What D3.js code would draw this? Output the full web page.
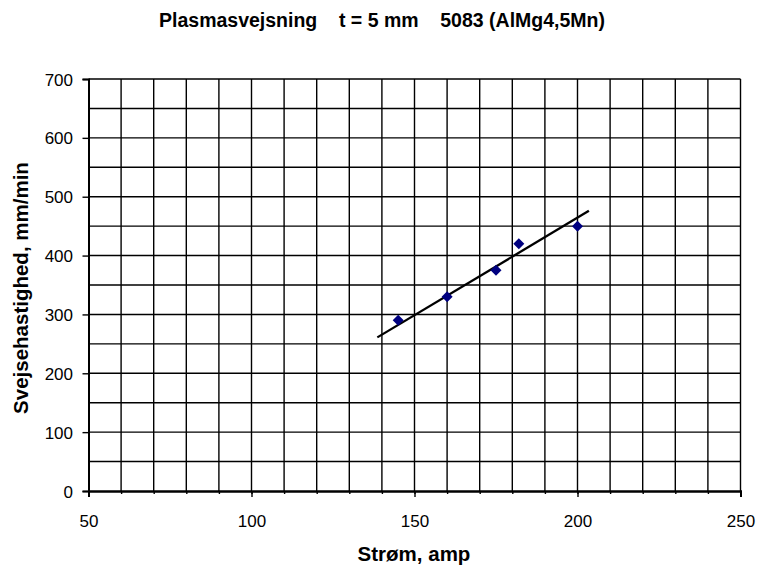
<!DOCTYPE html>
<html><head><meta charset="utf-8">
<script src="https://cdn.jsdelivr.net/npm/d3@7"></script>
<style>body{margin:0;background:#fff}svg{display:block}text{font-family:"Liberation Sans",Arial,sans-serif}</style>
</head><body>
<script>
const current = [145, 160, 175, 182, 200];
const speed = [290, 330, 375, 420, 450];
const trendX = [138.6, 203.5];
const trendY = [261, 476];
const xTicks = [50, 100, 150, 200, 250];
const yTicks = [0, 100, 200, 300, 400, 500, 600, 700];
const title = "Plasmasvejsning\u00a0\u00a0\u00a0\u00a0t = 5 mm\u00a0\u00a0\u00a0\u00a05083 (AlMg4,5Mn)";
const xTitle = "Strøm, amp";
const yTitle = "Svejsehastighed, mm/min";

const W = 758, H = 567;
const svg = d3.select("body").append("svg").attr("width", W).attr("height", H);
const x = d3.scaleLinear().domain([50, 250]).range([88.5, 740.5]);
const y = d3.scaleLinear().domain([0, 700]).range([491, 79]);

const g = svg.append("g");
g.selectAll(".vg").data(d3.range(60, 251, 10)).join("line")
  .attr("x1", d => x(d)).attr("x2", d => x(d)).attr("y1", y(0)).attr("y2", y(700))
  .attr("stroke", "#000").attr("stroke-width", 1.4);
g.selectAll(".hg").data(d3.range(50, 701, 50)).join("line")
  .attr("x1", x(50)).attr("x2", x(250)).attr("y1", d => y(d)).attr("y2", d => y(d))
  .attr("stroke", "#000").attr("stroke-width", 1.4);

const xa = svg.append("g").attr("transform", `translate(0,${y(0)})`);
xa.call(d3.axisBottom(x).tickValues(d3.range(50, 251, 10)).tickSize(3).tickFormat(""));
xa.append("g").call(d3.axisBottom(x).tickValues(xTicks).tickSize(6).tickFormat(d3.format("d")));
xa.selectAll("path.domain").attr("stroke-width", 2);
xa.selectAll("line").attr("stroke-width", 1.4);
xa.selectAll("text").attr("font-size", 17).attr("fill", "#000").attr("y", 36).attr("dy", 0);

const ya = svg.append("g").attr("transform", `translate(${x(50)},0)`);
ya.call(d3.axisLeft(y).tickValues(yTicks).tickSize(6).tickFormat(d3.format("d")));
ya.selectAll("path.domain").attr("stroke-width", 2);
ya.selectAll("line").attr("stroke-width", 1.4);
ya.selectAll("text").attr("font-size", 17).attr("fill", "#000").attr("x", -15.5).attr("dy", "0.36em");

svg.append("line")
  .attr("x1", x(trendX[0])).attr("y1", y(trendY[0]))
  .attr("x2", x(trendX[1])).attr("y2", y(trendY[1]))
  .attr("stroke", "#000").attr("stroke-width", 2.3);

const r = 5.5;
svg.selectAll(".pt").data(current.map((c, i) => [c, speed[i]])).join("path")
  .attr("d", d => `M${x(d[0])},${y(d[1]) - r}L${x(d[0]) + r},${y(d[1])}L${x(d[0])},${y(d[1]) + r}L${x(d[0]) - r},${y(d[1])}Z`)
  .attr("fill", "#000080");

svg.append("text").attr("x", 382).attr("y", 27).attr("text-anchor", "middle")
  .attr("font-size", 19.5).attr("font-weight", "bold").text(title);
svg.append("text").attr("x", 414).attr("y", 561).attr("text-anchor", "middle")
  .attr("font-size", 20.5).attr("font-weight", "bold").text(xTitle);
svg.append("text").attr("transform", `translate(28,288) rotate(-90)`).attr("text-anchor", "middle")
  .attr("font-size", 20.5).attr("font-weight", "bold").text(yTitle);
</script>
</body></html>
